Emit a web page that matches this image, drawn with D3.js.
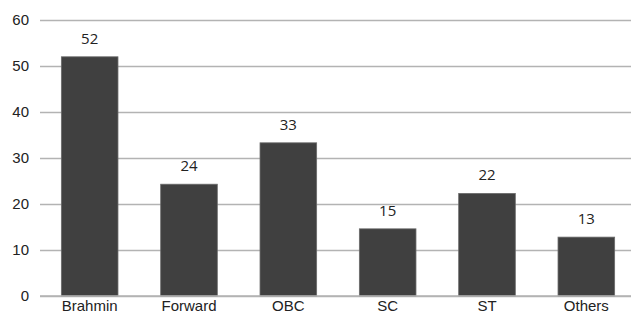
<!DOCTYPE html>
<html>
<head>
<meta charset="utf-8">
<script src="https://cdn.jsdelivr.net/npm/d3@7/dist/d3.min.js"></script>
<style>
  body { margin: 0; background: #fff; }
  svg { display: block; font-family: 'Open Sans', 'Noto Sans', sans-serif; }
  .grid line { stroke: #b3b3b3; stroke-width: 1.5; }
  .tick text { fill: #222; font-size: 15px; }
  .bar { fill: #404040; stroke: #6a6a6a; stroke-width: 0.8; }
  .val { fill: #222; font-size: 15px; text-anchor: middle; }
</style>
</head>
<body>
<svg id="chart" width="631" height="315"></svg>
<script>
const categories = ['Brahmin', 'Forward', 'OBC', 'SC', 'ST', 'Others'];
const values = [52.0, 24.3, 33.3, 14.6, 22.3, 12.8];
const valueLabels = ['52', '24', '33', '15', '22', '13'];
const yTicks = [0, 10, 20, 30, 40, 50, 60];

const svg = d3.select('#chart');
const x = d3.scaleBand().domain(categories).range([40, 636]).paddingInner(0.43).paddingOuter(0.215);
const y = d3.scaleLinear().domain([0, 60]).range([296, 20]);

// gridlines + y labels
const gy = svg.append('g').attr('class', 'grid')
  .attr('transform', 'translate(40,0)')
  .call(d3.axisLeft(y).tickValues(yTicks).tickSize(-600).tickPadding(11));
gy.select('.domain').remove();

// bars
svg.selectAll('.bar').data(values).enter().append('rect')
  .attr('class', 'bar')
  .attr('x', (d, i) => x(categories[i]))
  .attr('y', d => y(d))
  .attr('width', x.bandwidth())
  .attr('height', d => y(0) - y(d));

// value labels
svg.selectAll('.val').data(values).enter().append('text')
  .attr('class', 'val')
  .attr('x', (d, i) => x(categories[i]) + x.bandwidth() / 2)
  .attr('y', d => y(d) - 13)
  .text((d, i) => valueLabels[i]);

// baseline redrawn on top of bars
svg.append('line')
  .attr('x1', 40).attr('x2', 631)
  .attr('y1', y(0)).attr('y2', y(0))
  .attr('stroke', '#b3b3b3').attr('stroke-width', 1.5);

// x labels
const gx = svg.append('g')
  .attr('transform', `translate(0,${y(0)})`)
  .call(d3.axisBottom(x).tickSize(0).tickPadding(4));
gx.select('.domain').remove();
</script>
</body>
</html>
